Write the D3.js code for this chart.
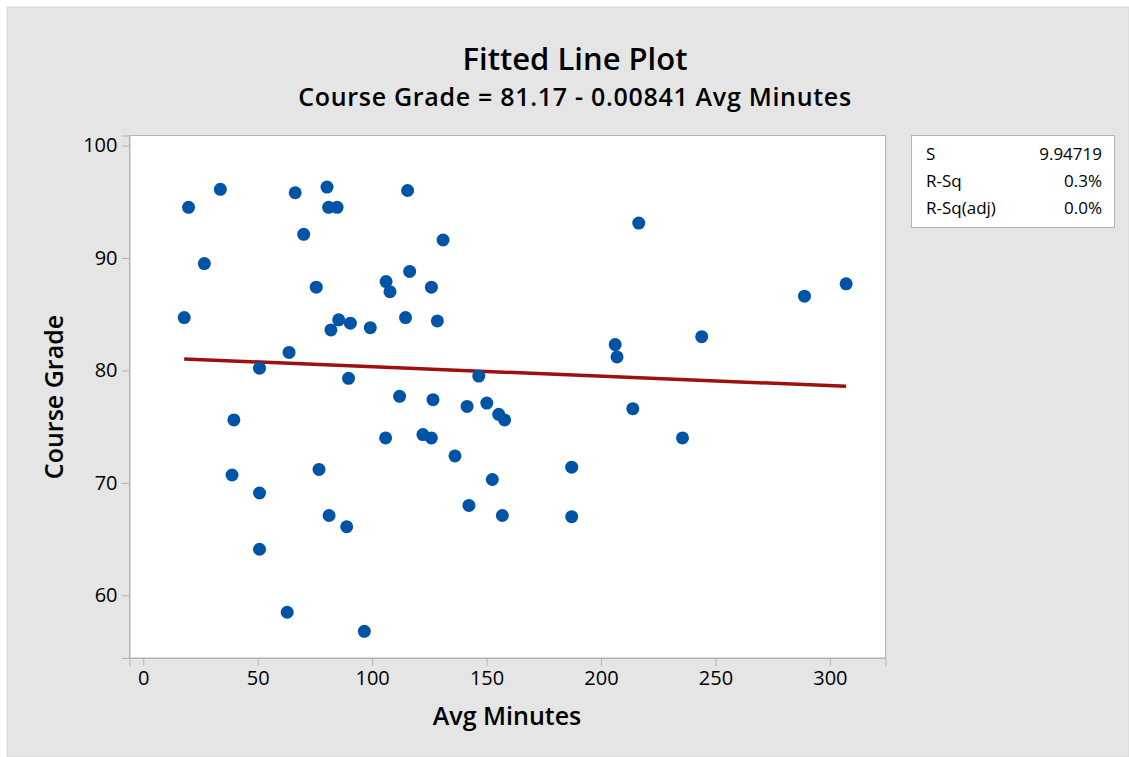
<!DOCTYPE html>
<meta charset="utf-8">
<script src="https://d3js.org/d3.v7.min.js"></script>
<style>
  body { margin: 0; background: #fff; }
  text { font-family: "Open Sans", "Noto Sans", sans-serif; fill: #000; }
</style>
<div id="chart"></div>
<script>

// data
var avgMinutes = [17.9, 19.8, 26.7, 33.7, 39.6, 38.8, 50.8, 50.8, 50.8, 62.9,
  63.7, 66.4, 70.1, 75.6, 76.8, 80.3, 81.0, 84.7, 82.0, 85.4,
  81.2, 88.9, 89.7, 90.5, 96.6, 99.2, 105.9, 106.1, 107.8, 112.0,
  114.6, 115.5, 116.4, 122.2, 125.9, 125.9, 126.6, 128.5, 131.0, 136.2,
  141.5, 142.3, 146.6, 150.1, 152.5, 155.3, 156.9, 157.9, 187.2, 187.2,
  206.2, 207.0, 213.9, 216.5, 235.6, 244.0, 288.9, 307.1];
var courseGrade = [84.7, 94.5, 89.5, 96.1, 75.6, 70.7, 80.2, 69.1, 64.1, 58.5,
  81.6, 95.8, 92.1, 87.4, 71.2, 96.3, 94.5, 94.5, 83.6, 84.5,
  67.1, 66.1, 79.3, 84.2, 56.8, 83.8, 74.0, 87.9, 87.0, 77.7,
  84.7, 96.0, 88.8, 74.3, 74.0, 87.4, 77.4, 84.4, 91.6, 72.4,
  76.8, 68.0, 79.5, 77.1, 70.3, 76.1, 67.1, 75.6, 71.4, 67.0,
  82.3, 81.2, 76.6, 93.1, 74.0, 83.0, 86.6, 87.7];

var fitIntercept = 81.17;
var fitSlope = -0.00841;

var xTicks = [0, 50, 100, 150, 200, 250, 300];
var yTicks = [60, 70, 80, 90, 100];

var statLabels = ["S", "R-Sq", "R-Sq(adj)"];
var statValues = ["9.94719", "0.3%", "0.0%"];

var W = 1129, H = 757;
var plot = {left: 129.5, top: 135.5, right: 885.5, bottom: 658};

var svg = d3.select("#chart")
  .append("svg")
    .attr("width", W)
    .attr("height", H);

// grey page
svg.append("rect")
  .attr("x", 7).attr("y", 7)
  .attr("width", W - 7).attr("height", H - 7)
  .attr("fill", "#e5e5e5")
  .attr("stroke", "#d6d6d6");

var x = d3.scaleLinear()
  .domain([-6.0, 324.3])
  .range([plot.left, plot.right]);

var y = d3.scaleLinear()
  .domain([54.43, 100.89])
  .range([plot.bottom, plot.top]);

// plot area
svg.append("rect")
  .attr("x", plot.left).attr("y", plot.top)
  .attr("width", plot.right - plot.left)
  .attr("height", plot.bottom - plot.top)
  .attr("fill", "#fff")
  .attr("stroke", "#b4b4b4");

var xAxis = svg.append("g")
  .attr("transform", "translate(0," + plot.bottom + ")")
  .call(d3.axisBottom(x).tickValues(xTicks).tickSize(8).tickPadding(5));

var yAxis = svg.append("g")
  .attr("transform", "translate(" + plot.left + ",0)")
  .call(d3.axisLeft(y).tickValues(yTicks).tickSize(8).tickPadding(4));

[xAxis, yAxis].forEach(function(g) {
  g.select(".domain").attr("stroke", "#b4b4b4");
  g.selectAll(".tick line").attr("stroke", "#b4b4b4");
  g.selectAll(".tick text")
    .attr("font-family", "'Open Sans', 'Noto Sans', sans-serif")
    .attr("font-size", 20)
    .attr("fill", "#000");
});

// fitted line
var fitX = [d3.min(avgMinutes), d3.max(avgMinutes)];
svg.append("path")
  .datum(fitX)
  .attr("fill", "none")
  .attr("stroke", "#9c1010")
  .attr("stroke-width", 3.5)
  .attr("d", d3.line()
    .x(function(d) { return x(d); })
    .y(function(d) { return y(fitIntercept + fitSlope * d); }));

// points
svg.append("g")
  .selectAll("circle")
  .data(avgMinutes)
  .enter()
  .append("circle")
    .attr("cx", function(d) { return x(d); })
    .attr("cy", function(d, i) { return y(courseGrade[i]); })
    .attr("r", 6.5)
    .attr("fill", "#0054a6");

// titles
svg.append("text")
  .attr("x", 575).attr("y", 70)
  .attr("text-anchor", "middle")
  .attr("font-size", 31)
  .attr("font-weight", 600)
  .text("Fitted Line Plot");

svg.append("text")
  .attr("x", 575).attr("y", 106)
  .attr("text-anchor", "middle")
  .attr("font-size", 25)
  .attr("font-weight", 600)
  .attr("letter-spacing", 0.7)
  .text("Course Grade = 81.17 - 0.00841 Avg Minutes");

svg.append("text")
  .attr("x", 507).attr("y", 725)
  .attr("text-anchor", "middle")
  .attr("font-size", 25)
  .attr("font-weight", 600)
  .text("Avg Minutes");

svg.append("text")
  .attr("transform", "translate(63,397) rotate(-90)")
  .attr("text-anchor", "middle")
  .attr("font-size", 25)
  .attr("font-weight", 600)
  .text("Course Grade");

// stats box
var box = svg.append("g").attr("transform", "translate(911,135)");
box.append("rect")
  .attr("x", 0.5).attr("y", 0.5)
  .attr("width", 203).attr("height", 92)
  .attr("fill", "#fff")
  .attr("stroke", "#b4b4b4");

statLabels.forEach(function(lab, i) {
  box.append("text")
    .attr("x", 15).attr("y", 25 + i * 27)
    .attr("font-size", 17)
    .text(lab);
  box.append("text")
    .attr("x", 191).attr("y", 25 + i * 27)
    .attr("text-anchor", "end")
    .attr("font-size", 17)
    .text(statValues[i]);
});
</script>
